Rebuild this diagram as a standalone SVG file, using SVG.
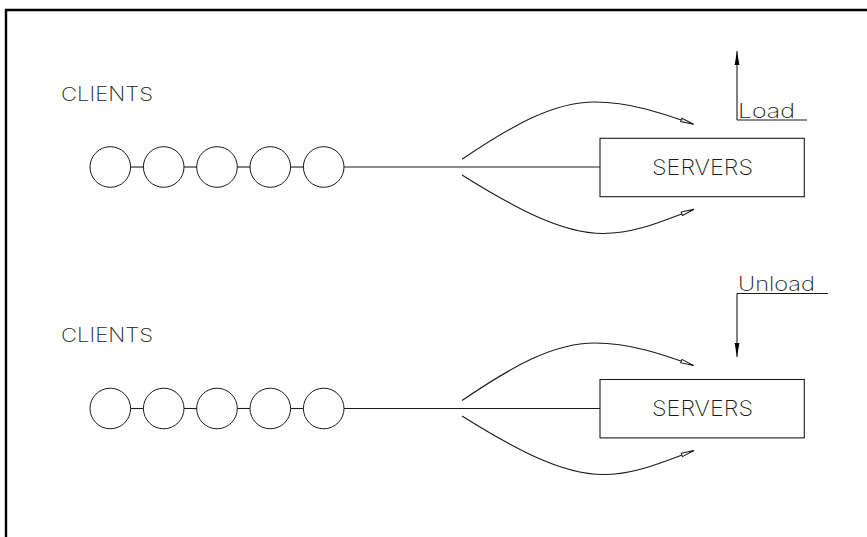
<svg xmlns="http://www.w3.org/2000/svg" width="867" height="537" viewBox="0 0 867 537">
<style>
.ln{fill:none;stroke:#1a1a1a;stroke-width:1.1}
.c{fill:#fff;stroke:#1a1a1a;stroke-width:1}
.t{font-family:"Inter","Open Sans","Liberation Sans",Arial,sans-serif;fill:#1a1a1a;font-weight:200}
.fr{fill:none;stroke:#000;stroke-width:2.4}
</style>
<defs>
<marker id="open" markerUnits="userSpaceOnUse" markerWidth="16" markerHeight="8" refX="14" refY="4" orient="auto" viewBox="0 0 16 8">
<path d="M1,2.2 L14,4 L1,5.8 Z" fill="#fff" stroke="#1a1a1a" stroke-width="1"/>
</marker>
<marker id="solid" markerUnits="userSpaceOnUse" markerWidth="16" markerHeight="8" refX="14" refY="4" orient="auto" viewBox="0 0 16 8">
<path d="M0,1.6 L14,4 L0,6.4 Z" fill="#000"/>
</marker>
</defs>
<rect width="867" height="537" fill="#fff"/>
<path class="fr" d="M6,537 V10 H867"/>

<g id="clients-top">
<text class="t" x="61" y="101" font-size="19.5" textLength="92" lengthAdjust="spacingAndGlyphs">CLIENTS</text>
<line class="ln" x1="130" y1="167" x2="144" y2="167"/>
<line class="ln" x1="184" y1="167" x2="197" y2="167"/>
<line class="ln" x1="237" y1="167" x2="250" y2="167"/>
<line class="ln" x1="290" y1="167" x2="304" y2="167"/>
<circle class="c" cx="110.3" cy="167" r="20.3"/>
<circle class="c" cx="163.7" cy="167" r="20.3"/>
<circle class="c" cx="217" cy="167" r="20.3"/>
<circle class="c" cx="270.3" cy="167" r="20.3"/>
<circle class="c" cx="323.7" cy="167" r="20.3"/>
</g>
<g id="servers-top">
<rect class="ln" x="600" y="138.3" width="204.3" height="58.4"/>
<text class="t" x="652" y="174.5" font-size="21" textLength="101" lengthAdjust="spacingAndGlyphs">SERVERS</text>
</g>
<g id="load">
<line class="ln" x1="737" y1="120" x2="737" y2="51" marker-end="url(#solid)"/>
<line class="ln" x1="737" y1="120" x2="807" y2="120"/>
<text class="t" x="738" y="118" font-size="20" textLength="57" lengthAdjust="spacingAndGlyphs">Load</text>
</g>

<g id="clients-bottom">
<text class="t" x="61" y="342" font-size="19.5" textLength="92" lengthAdjust="spacingAndGlyphs">CLIENTS</text>
<line class="ln" x1="130" y1="408.5" x2="144" y2="408.5"/>
<line class="ln" x1="184" y1="408.5" x2="197" y2="408.5"/>
<line class="ln" x1="237" y1="408.5" x2="250" y2="408.5"/>
<line class="ln" x1="290" y1="408.5" x2="304" y2="408.5"/>
<circle class="c" cx="110.3" cy="408.5" r="20.3"/>
<circle class="c" cx="163.7" cy="408.5" r="20.3"/>
<circle class="c" cx="217" cy="408.5" r="20.3"/>
<circle class="c" cx="270.3" cy="408.5" r="20.3"/>
<circle class="c" cx="323.7" cy="408.5" r="20.3"/>
</g>
<g id="servers-bottom">
<rect class="ln" x="600" y="379.5" width="204.3" height="58.4"/>
<text class="t" x="652" y="415.5" font-size="21" textLength="101" lengthAdjust="spacingAndGlyphs">SERVERS</text>
</g>
<g id="unload">
<line class="ln" x1="737" y1="293.5" x2="828" y2="293.5"/>
<line class="ln" x1="737" y1="293.5" x2="737" y2="357" marker-end="url(#solid)"/>
<text class="t" x="738" y="290.5" font-size="20" textLength="77" lengthAdjust="spacingAndGlyphs">Unload</text>
</g>

<g id="connectors">
<line class="ln" x1="344" y1="167" x2="600" y2="167"/>
<path class="ln" d="M462,159.3 C510,127 552,102 595,102 C630,102 662,113 693.5,124.3" marker-end="url(#open)"/>
<path class="ln" d="M462,175 C510,205 560,233.5 603,233.5 C636,233.5 665,220 694,209.3" marker-end="url(#open)"/>
<line class="ln" x1="344" y1="408.5" x2="600" y2="408.5"/>
<path class="ln" d="M462,400.5 C510,368 552,343 595,343 C630,343 662,354 693.5,365.5" marker-end="url(#open)"/>
<path class="ln" d="M462,416 C510,446 560,474.5 603,474.5 C636,474.5 665,461 694,450.5" marker-end="url(#open)"/>
</g>
</svg>
